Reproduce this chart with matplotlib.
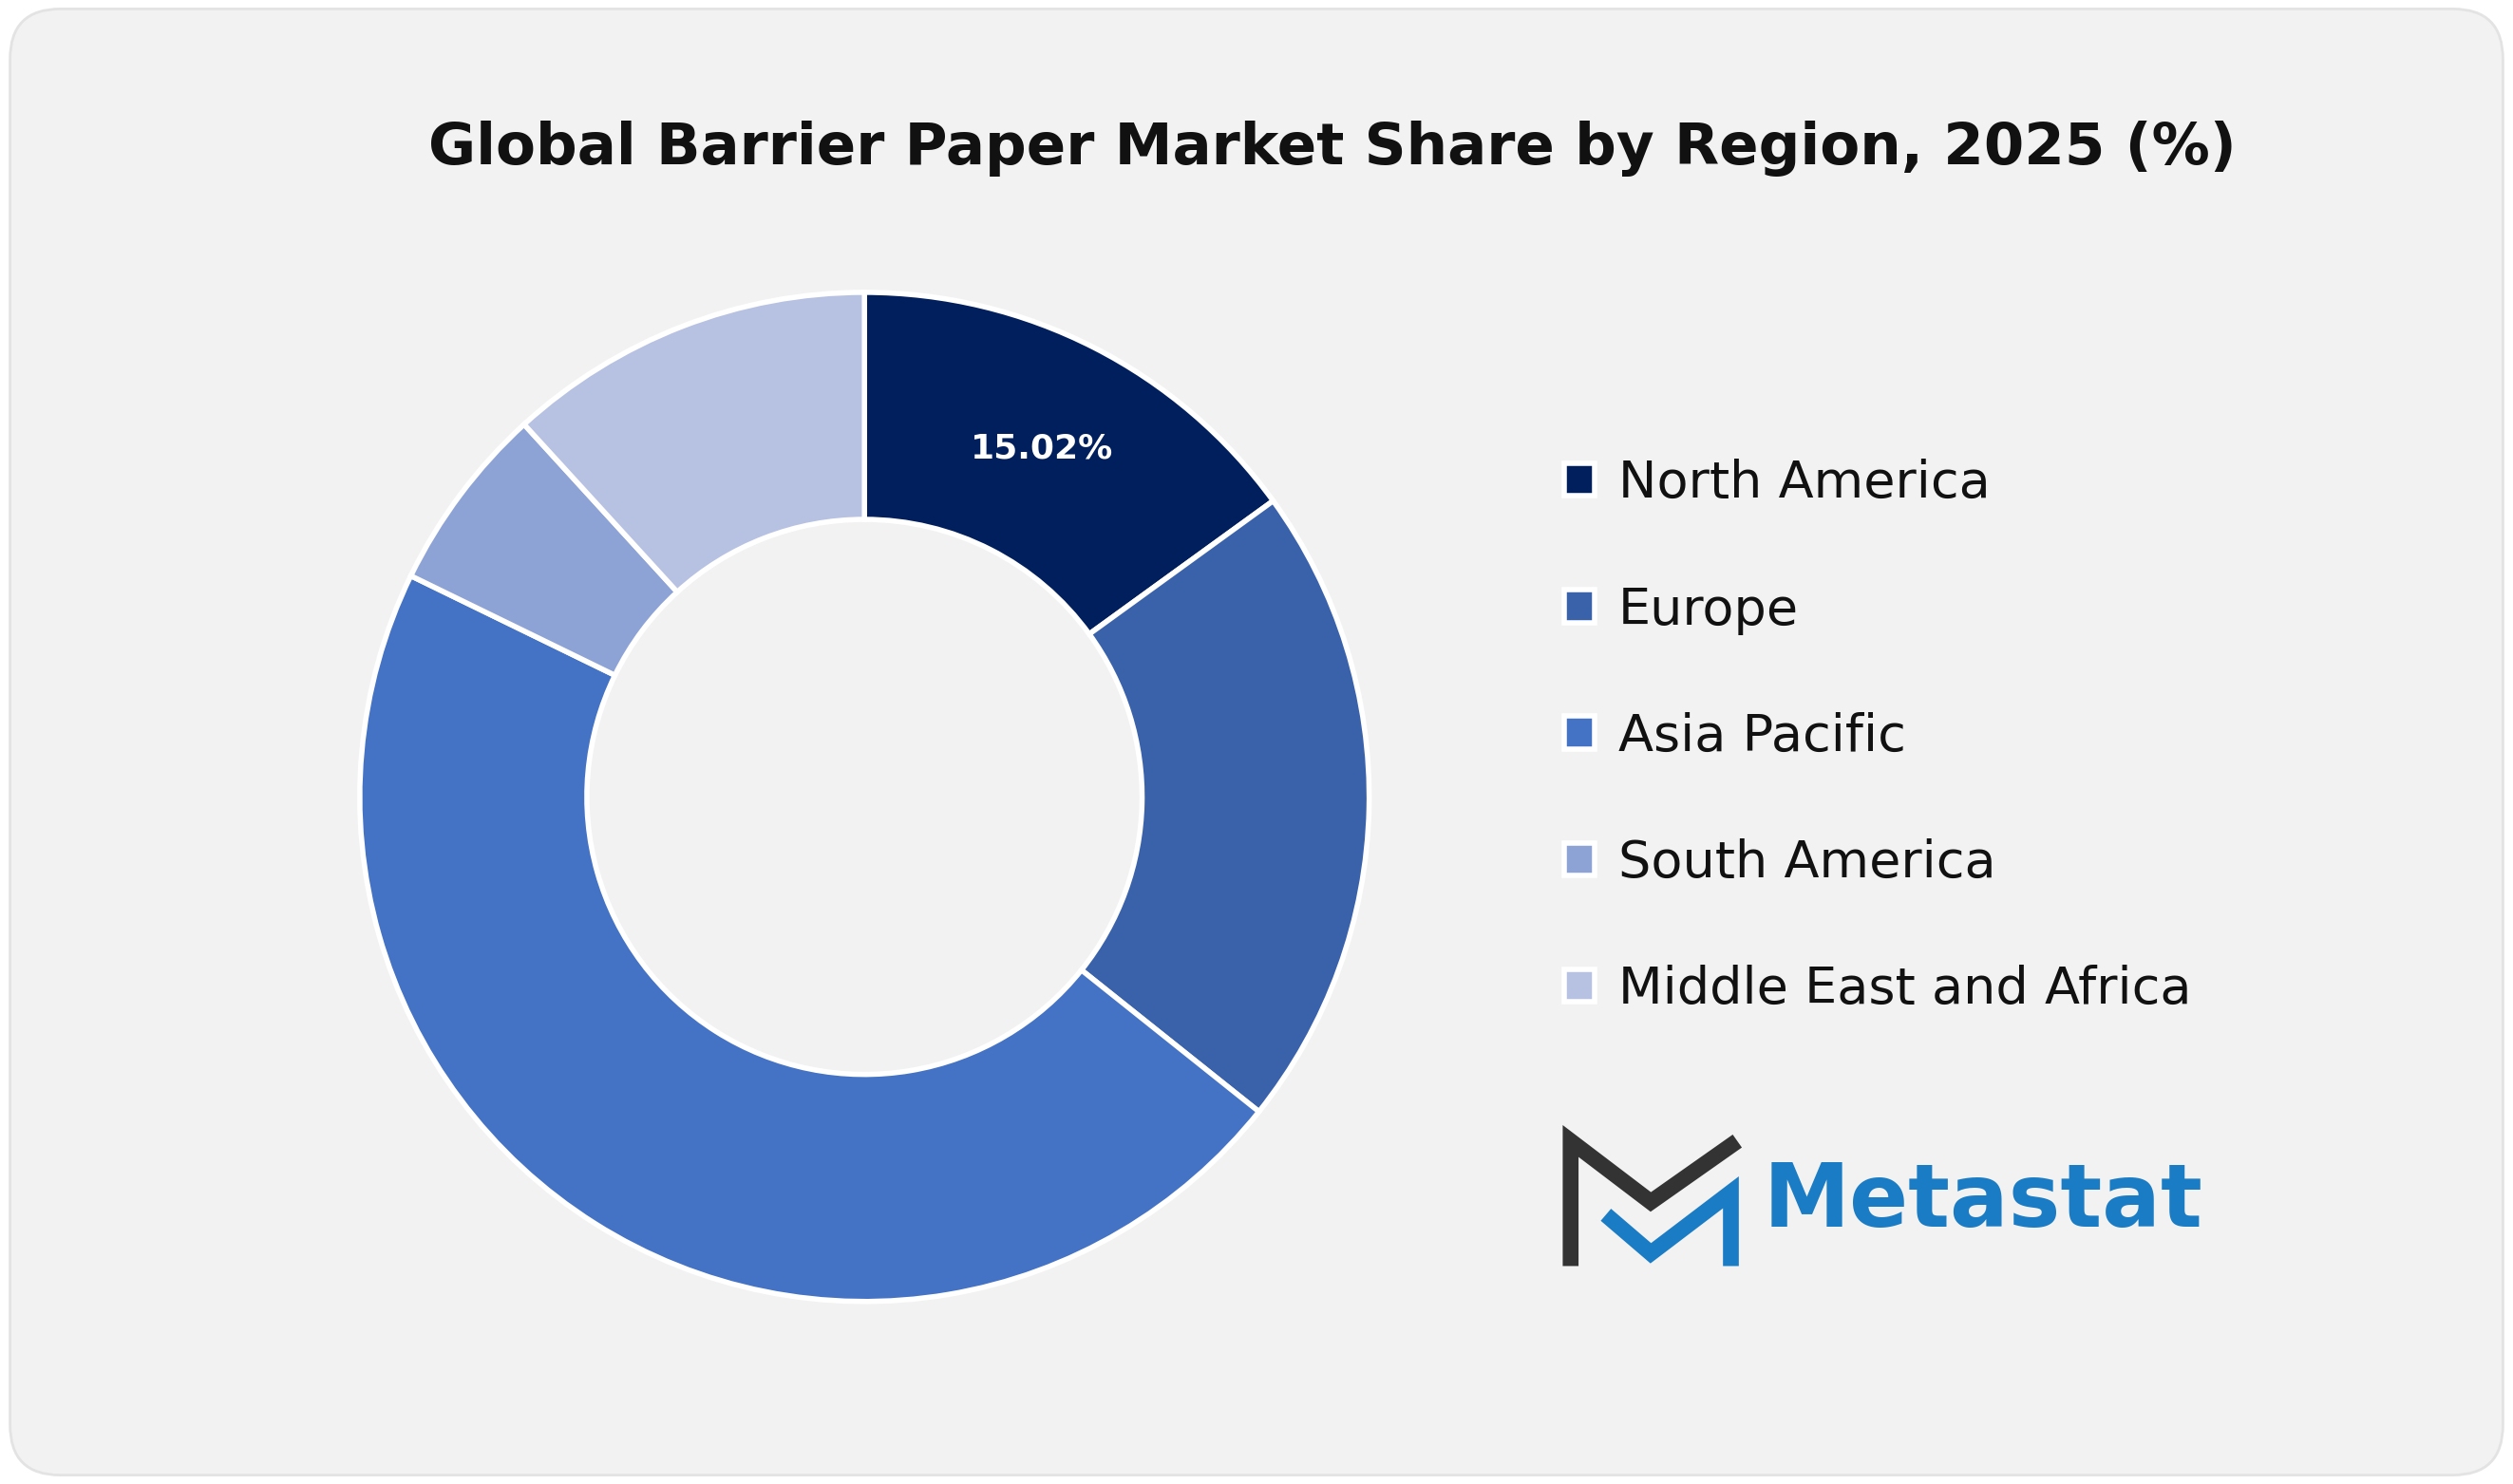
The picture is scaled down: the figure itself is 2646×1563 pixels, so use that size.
import matplotlib

matplotlib.use("Agg")
import matplotlib.pyplot as plt
from matplotlib.patches import FancyBboxPatch
from matplotlib.lines import Line2D

regions = ["North America", "Europe", "Asia Pacific", "South America", "Middle East and Africa"]
shares = [15.02, 20.7, 46.5, 6.0, 11.78]
colors = ["#001f5c", "#3a62ab", "#4472c4", "#8ea3d5", "#b7c1e2"]
shown_labels = ["15.02%", "", "", "", ""]

W, H = 2646, 1563
fig = plt.figure(figsize=(W / 100, H / 100), dpi=100, facecolor="white")

bg = FancyBboxPatch((0.004, 0.006), 0.992, 0.988, boxstyle="round,pad=0,rounding_size=0.02",
                    transform=fig.transFigure, facecolor="#f2f2f2", edgecolor="#e3e3e3",
                    linewidth=2, mutation_aspect=W / H, zorder=-10)
fig.patches.append(bg)

fig.text(0.53, 0.9, "Global Barrier Paper Market Share by Region, 2025 (%)",
         ha="center", va="center", fontsize=44, fontweight="heavy", color="#111111")

ax = fig.add_axes([0.143, 0.123, 0.402, 0.68])
ax.set_facecolor("none")
wedges, texts = ax.pie(shares, colors=colors, startangle=90, counterclock=False,
                       wedgeprops=dict(width=0.45, edgecolor="white", linewidth=4),
                       labels=shown_labels, labeldistance=0.775,
                       textprops=dict(color="white", fontsize=26, fontweight="bold"))
for t in texts:
    t.set_ha("center")
    t.set_va("center")
ax.set_xlim(-1, 1)
ax.set_ylim(-1, 1)
ax.set_aspect("equal")

fig.legend(wedges, regions, loc="upper left", bbox_to_anchor=(0.604, 0.722),
           frameon=False, fontsize=39, handlelength=0.6, handleheight=0.6,
           labelspacing=1.5, handletextpad=0.45, labelcolor="#111111")

# logo
def px(x, y):
    return x / 1568, 1 - y / 926

dark = [px(980, 790), px(980, 712), px(1030, 750), px(1084, 712)]
blue = [px(1002, 758), px(1030, 782), px(1080, 744), px(1080, 790)]
for pts, c in [(dark, "#333333"), (blue, "#1a7cc4")]:
    xs, ys = zip(*pts)
    fig.add_artist(Line2D(xs, ys, transform=fig.transFigure, color=c, linewidth=12,
                          solid_joinstyle="miter", solid_capstyle="butt"))
fig.text(1100 / 1568, 1 - 750 / 926, "Metastat", ha="left", va="center",
         fontsize=66, fontweight="bold", color="#1a7cc4")

fig.savefig("out.png", dpi=100, facecolor="white")
